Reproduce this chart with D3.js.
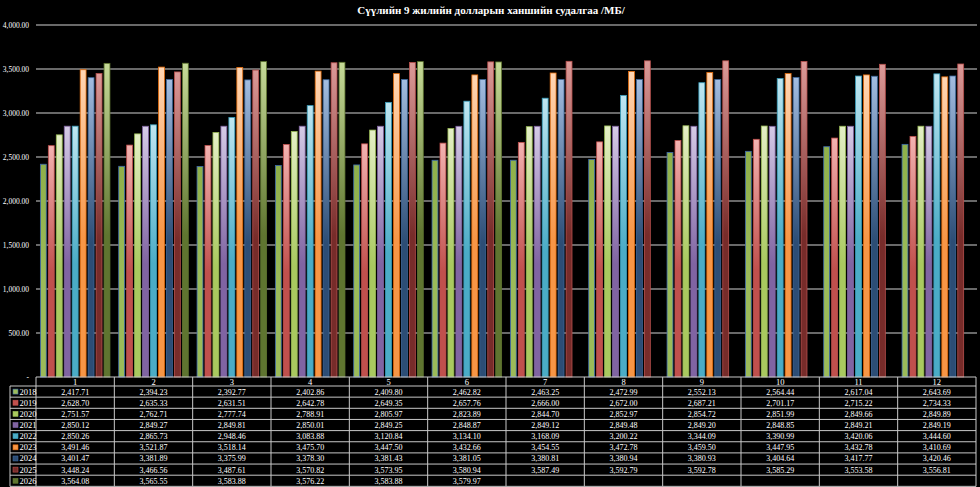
<!DOCTYPE html>
<html>
<head>
<meta charset="utf-8">
<script src="https://cdn.jsdelivr.net/npm/d3@7"></script>
<style>
  html, body { margin: 0; padding: 0; background: #000; }
  svg { display: block; }
  text { font-family: "Liberation Serif", "Times New Roman", serif; fill: #fff; }
</style>
</head>
<body>
<svg id="chart" width="980" height="487"></svg>
<script>
// Chart data
const title = "Сүүлийн 9 жилийн долларын ханшийн судалгаа /МБ/";
const months = ["1", "2", "3", "4", "5", "6", "7", "8", "9", "10", "11", "12"];
const years = ["2018", "2019", "2020", "2021", "2022", "2023", "2024", "2025", "2026"];
const yTicks = [0, 500, 1000, 1500, 2000, 2500, 3000, 3500, 4000];

const v2018 = [2417.71, 2394.23, 2392.77, 2402.86, 2409.80, 2462.82, 2463.25, 2472.99, 2552.13, 2564.44, 2617.04, 2643.69];
const v2019 = [2628.70, 2635.33, 2631.51, 2642.78, 2649.35, 2657.76, 2666.00, 2672.00, 2687.21, 2701.17, 2715.22, 2734.33];
const v2020 = [2751.57, 2762.71, 2777.74, 2788.91, 2805.97, 2823.89, 2844.70, 2852.97, 2854.72, 2851.99, 2849.66, 2849.89];
const v2021 = [2850.12, 2849.27, 2849.81, 2850.01, 2849.25, 2848.87, 2849.12, 2849.48, 2849.20, 2848.85, 2849.21, 2849.19];
const v2022 = [2850.26, 2865.73, 2948.46, 3083.88, 3120.84, 3134.10, 3168.09, 3200.22, 3344.09, 3390.99, 3420.06, 3444.60];
const v2023 = [3491.46, 3521.87, 3518.14, 3475.70, 3447.50, 3432.66, 3454.55, 3472.78, 3459.50, 3447.95, 3432.78, 3410.69];
const v2024 = [3401.47, 3381.89, 3375.99, 3378.30, 3381.43, 3381.05, 3380.81, 3380.94, 3380.93, 3404.64, 3417.77, 3420.46];
const v2025 = [3448.24, 3466.56, 3487.61, 3570.82, 3573.95, 3580.94, 3587.49, 3592.79, 3592.78, 3585.29, 3553.58, 3556.81];
const v2026 = [3564.08, 3565.55, 3583.88, 3576.22, 3583.88, 3579.97, null, null, null, null, null, null];
const seriesValues = [v2018, v2019, v2020, v2021, v2022, v2023, v2024, v2025, v2026];

// top (light), bottom (base) and outline colours per year
const topColors    = ["#8fb04a", "#f3b3b1", "#e4efc6", "#d5cbe6", "#bfe6f1", "#ffd6b4", "#a3bde0", "#dc9a98", "#c6da98"];
const baseColors   = ["#9bbb59", "#c0504d", "#a9c95f", "#8064a2", "#4bacc6", "#f79646", "#2c4d75", "#772c2a", "#5f7530"];
const strokeColors = ["#3f6bab", "#c0504d", "#98b954", "#8064a2", "#3a9fbc", "#e46c0a", "#3d679a", "#b8504d", "#5f7530"];

const svg = d3.select("#chart");
const margin = { left: 36, right: 4, top: 25, bottom: 110 };
const width = 980, height = 487;
const plotBottom = 377;

const x = d3.scaleBand()
  .domain(months)
  .range([margin.left, width - margin.right])
  .paddingInner(0)
  .paddingOuter(0);

const xInner = d3.scaleBand()
  .domain(years)
  .range([0, x.bandwidth()])
  .paddingInner(0.26)
  .paddingOuter(0.55);

const y = d3.scaleLinear()
  .domain([0, 4000])
  .range([plotBottom, margin.top]);

const fmt = d3.format(",.2f");

// gradients
const defs = svg.append("defs");
years.forEach((yr, i) => {
  const g = defs.append("linearGradient")
    .attr("id", "grad" + yr)
    .attr("x1", 0).attr("y1", 0).attr("x2", 0).attr("y2", 1);
  g.append("stop").attr("offset", "0%").attr("stop-color", topColors[i]);
  g.append("stop").attr("offset", "55%").attr("stop-color", baseColors[i]);
  g.append("stop").attr("offset", "100%").attr("stop-color", baseColors[i]);
});

// title
svg.append("text")
  .attr("x", 491)
  .attr("y", 14)
  .attr("text-anchor", "middle")
  .attr("font-size", 11)
  .attr("font-weight", "bold")
  .text(title);

// gridlines
svg.append("g")
  .selectAll("line")
  .data(yTicks.filter(d => d > 0))
  .enter()
  .append("line")
  .attr("x1", margin.left)
  .attr("x2", width - 3)
  .attr("y1", d => y(d))
  .attr("y2", d => y(d))
  .attr("stroke", "#8c8c8c")
  .attr("stroke-width", 1.5);

// y axis labels
svg.append("g")
  .selectAll("text")
  .data(yTicks)
  .enter()
  .append("text")
  .attr("x", 29)
  .attr("y", d => y(d) + 3)
  .attr("text-anchor", "end")
  .attr("font-size", 7.5)
  .text(d => d === 0 ? "-" : fmt(d));

// bars
const groups = svg.append("g")
  .selectAll("g")
  .data(months)
  .enter()
  .append("g")
  .attr("transform", d => `translate(${x(d)},0)`);

groups.selectAll("rect")
  .data((m, mi) => years.map((yr, si) => ({ yr, si, value: seriesValues[si][mi] })).filter(d => d.value != null))
  .enter()
  .append("rect")
  .attr("x", d => xInner(d.yr))
  .attr("width", xInner.bandwidth())
  .attr("y", d => y(d.value))
  .attr("height", d => plotBottom - y(d.value))
  .attr("fill", d => `url(#grad${d.yr})`)
  .attr("stroke", d => strokeColors[d.si])
  .attr("stroke-width", 0.8);

// data table
const headerTop = plotBottom;
const rowTop = 386;
const rowH = 11.15;
const legendLeft = 10;
const tableRight = width - margin.right;
const table = svg.append("g");
const lineColor = "#c8c8c8";

// horizontal lines
table.append("line")
  .attr("x1", margin.left).attr("x2", tableRight)
  .attr("y1", headerTop).attr("y2", headerTop)
  .attr("stroke", lineColor).attr("stroke-width", 1);
d3.range(years.length + 1).forEach(i => {
  table.append("line")
    .attr("x1", legendLeft).attr("x2", tableRight)
    .attr("y1", rowTop + i * rowH).attr("y2", rowTop + i * rowH)
    .attr("stroke", lineColor).attr("stroke-width", 1);
});

// vertical lines
table.append("line")
  .attr("x1", legendLeft).attr("x2", legendLeft)
  .attr("y1", rowTop).attr("y2", rowTop + years.length * rowH)
  .attr("stroke", lineColor);
months.forEach(m => {
  table.append("line")
    .attr("x1", x(m)).attr("x2", x(m))
    .attr("y1", headerTop).attr("y2", rowTop + years.length * rowH)
    .attr("stroke", lineColor);
});
table.append("line")
  .attr("x1", tableRight).attr("x2", tableRight)
  .attr("y1", headerTop).attr("y2", rowTop + years.length * rowH)
  .attr("stroke", lineColor);

// month headers
table.selectAll(".mh")
  .data(months)
  .enter()
  .append("text")
  .attr("class", "mh")
  .attr("x", d => x(d) + x.bandwidth() / 2)
  .attr("y", headerTop + 7.5)
  .attr("text-anchor", "middle")
  .attr("font-size", 8.5)
  .text(d => d);

// legend keys + year labels
years.forEach((yr, i) => {
  const cy = rowTop + i * rowH + rowH / 2;
  table.append("rect")
    .attr("x", 13).attr("y", cy - 2.5)
    .attr("width", 5).attr("height", 5)
    .attr("fill", baseColors[i])
    .attr("stroke", strokeColors[i])
    .attr("stroke-width", 0.6);
  table.append("text")
    .attr("x", 19.5).attr("y", cy + 3)
    .attr("font-size", 8.5)
    .text(yr);
});

// values
years.forEach((yr, si) => {
  table.selectAll(".v" + yr)
    .data(seriesValues[si].map((v, mi) => ({ v, m: months[mi] })).filter(d => d.v != null))
    .enter()
    .append("text")
    .attr("x", d => x(d.m) + x.bandwidth() / 2)
    .attr("y", rowTop + si * rowH + rowH / 2 + 3)
    .attr("text-anchor", "middle")
    .attr("font-size", 8)
    .text(d => fmt(d.v));
});
</script>
</body>
</html>
